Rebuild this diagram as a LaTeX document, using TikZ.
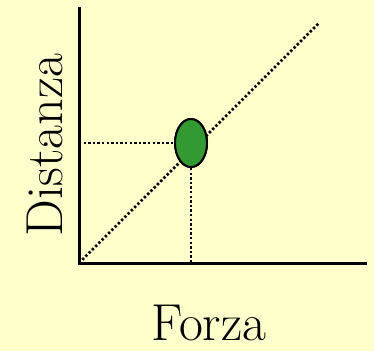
\documentclass[tikz,border=0pt]{standalone}
\usepackage{tikz}
\usetikzlibrary{shapes.geometric}
\definecolor{PaperYellow}{HTML}{FFFFCC}
\definecolor{MarkGreen}{HTML}{339933}

\begin{document}
\begin{tikzpicture}[x=1pt,y=1pt,font=\rmfamily\fontsize{52}{60}\selectfont,
    axisline/.style={draw=black,line width=3pt},
    dotline/.style={draw=black,line width=2.8pt,dash pattern=on 2.4pt off 2.2pt},
    marker/.style={ellipse,draw=black,line width=2pt,fill=MarkGreen,
      minimum width=32pt,minimum height=48pt,inner sep=0pt}]
  \fill[PaperYellow] (0,0) rectangle (374,351);
  \useasboundingbox (0,0) rectangle (374,351);
  % axes
  \coordinate (origin) at (79,88);
  \coordinate (ytop) at (79,344);
  \coordinate (xend) at (367,88);
  \coordinate (diagend) at (319,328);
  \node[marker] (point) at (191,208) {};
  \coordinate (yfoot) at (79,208);
  \coordinate (xfoot) at (191,88);
  \draw[dotline] (origin) -- (diagend);
  \draw[dotline] (yfoot) -- (point.west);
  \draw[dotline] (point.south) -- (xfoot);
  \node[marker] at (point) {};
  \draw[axisline] (ytop) -- (origin) -- (xend);
  % labels
  \node[rotate=90] (ylabel) at (45,206) {Distanza};
  \node[anchor=base] (xlabel) at (209,11) {Forza};
\end{tikzpicture}
\end{document}
